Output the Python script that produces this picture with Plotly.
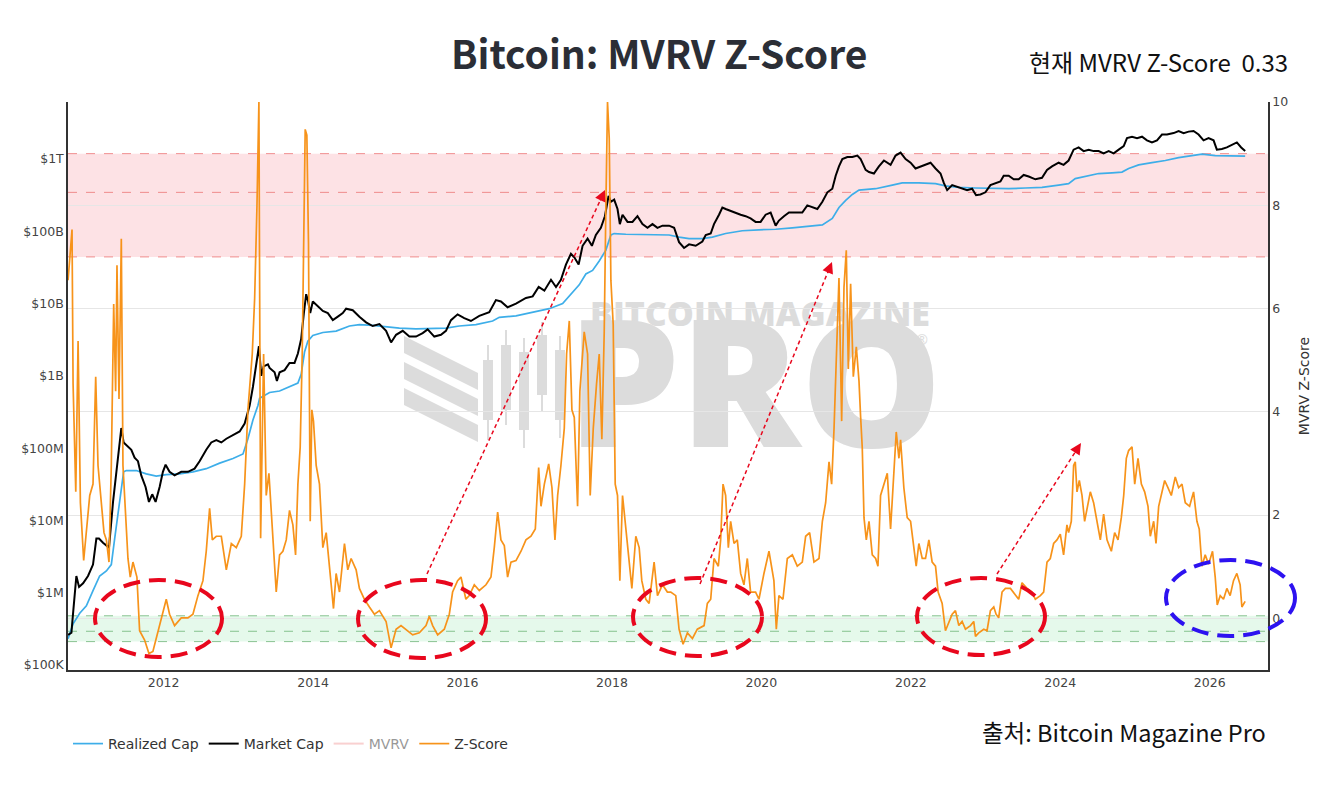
import numpy as np
import pandas as pd
import plotly.graph_objects as go

# ---------------- data ----------------
z_year = [2010.721, 2010.774, 2010.788, 2010.824, 2010.855, 2010.886, 2010.930, 2010.966, 2011.011, 2011.055,
          2011.091, 2011.122, 2011.167, 2011.202, 2011.234, 2011.269, 2011.300, 2011.332, 2011.358, 2011.376,
          2011.403, 2011.434, 2011.456, 2011.492, 2011.523, 2011.554, 2011.590, 2011.643, 2011.679, 2011.746,
          2011.804, 2011.857, 2011.924, 2011.991, 2012.036, 2012.080, 2012.147, 2012.236, 2012.325, 2012.392,
          2012.459, 2012.526, 2012.570, 2012.615, 2012.651, 2012.704, 2012.771, 2012.838, 2012.905, 2012.971,
          2013.038, 2013.083, 2013.127, 2013.185, 2013.217, 2013.248, 2013.274, 2013.297, 2013.337, 2013.372,
          2013.408, 2013.417, 2013.462, 2013.506, 2013.551, 2013.595, 2013.640, 2013.684, 2013.729, 2013.765,
          2013.796, 2013.827, 2013.854, 2013.876, 2013.894, 2013.916, 2013.938, 2013.961, 2013.983, 2014.005,
          2014.041, 2014.085, 2014.130, 2014.175, 2014.219, 2014.273, 2014.308, 2014.353, 2014.420, 2014.464,
          2014.509, 2014.576, 2014.620, 2014.687, 2014.754, 2014.821, 2014.888, 2014.977, 2015.044, 2015.111,
          2015.177, 2015.244, 2015.333, 2015.422, 2015.512, 2015.556, 2015.601, 2015.668, 2015.757, 2015.824,
          2015.868, 2015.935, 2015.980, 2016.046, 2016.091, 2016.158, 2016.225, 2016.314, 2016.381, 2016.425,
          2016.470, 2016.514, 2016.559, 2016.603, 2016.648, 2016.715, 2016.782, 2016.848, 2016.915, 2016.973,
          2017.018, 2017.049, 2017.094, 2017.152, 2017.196, 2017.236, 2017.272, 2017.316, 2017.361, 2017.392,
          2017.428, 2017.463, 2017.495, 2017.539, 2017.570, 2017.628, 2017.673, 2017.708, 2017.749, 2017.793,
          2017.829, 2017.864, 2017.896, 2017.918, 2017.940, 2017.963, 2017.985, 2018.016, 2018.043, 2018.074,
          2018.105, 2018.141, 2018.176, 2018.230, 2018.266, 2018.319, 2018.364, 2018.399, 2018.453, 2018.497,
          2018.564, 2018.609, 2018.676, 2018.742, 2018.787, 2018.854, 2018.898, 2018.952, 2019.010, 2019.077,
          2019.143, 2019.233, 2019.277, 2019.322, 2019.366, 2019.424, 2019.455, 2019.487, 2019.522, 2019.558,
          2019.589, 2019.634, 2019.678, 2019.723, 2019.767, 2019.812, 2019.856, 2019.923, 2019.968, 2020.035,
          2020.102, 2020.168, 2020.200, 2020.235, 2020.289, 2020.347, 2020.414, 2020.480, 2020.547, 2020.592,
          2020.645, 2020.703, 2020.770, 2020.815, 2020.859, 2020.904, 2020.939, 2020.971, 2021.015, 2021.037,
          2021.073, 2021.104, 2021.135, 2021.162, 2021.193, 2021.229, 2021.269, 2021.305, 2021.327, 2021.349,
          2021.372, 2021.403, 2021.439, 2021.483, 2021.528, 2021.559, 2021.594, 2021.639, 2021.684, 2021.728,
          2021.759, 2021.804, 2021.840, 2021.862, 2021.906, 2021.951, 2021.996, 2022.040, 2022.071, 2022.107,
          2022.152, 2022.196, 2022.241, 2022.285, 2022.330, 2022.365, 2022.419, 2022.463, 2022.508, 2022.553,
          2022.597, 2022.642, 2022.686, 2022.731, 2022.798, 2022.842, 2022.865, 2022.909, 2022.976, 2023.020,
          2023.065, 2023.110, 2023.141, 2023.176, 2023.221, 2023.266, 2023.333, 2023.399, 2023.444, 2023.488,
          2023.555, 2023.622, 2023.667, 2023.734, 2023.778, 2023.823, 2023.867, 2023.912, 2023.956, 2024.001,
          2024.045, 2024.090, 2024.112, 2024.148, 2024.179, 2024.201, 2024.224, 2024.255, 2024.291, 2024.326,
          2024.371, 2024.402, 2024.446, 2024.491, 2024.536, 2024.580, 2024.625, 2024.683, 2024.727, 2024.772,
          2024.816, 2024.848, 2024.883, 2024.914, 2024.959, 2024.995, 2025.039, 2025.084, 2025.128, 2025.173,
          2025.204, 2025.249, 2025.280, 2025.316, 2025.360, 2025.396, 2025.440, 2025.485, 2025.538, 2025.583,
          2025.628, 2025.672, 2025.730, 2025.783, 2025.828, 2025.859, 2025.895, 2025.939, 2025.984, 2026.037,
          2026.073, 2026.100, 2026.140, 2026.184, 2026.229, 2026.273, 2026.318, 2026.363, 2026.407, 2026.430,
          2026.474]
z_value = [6.55, 7.53, 4.54, 2.45, 5.37, 2.24, 1.12, 1.66, 2.38, 2.60,
           4.68, 2.96, 2.24, 1.66, 1.52, 1.09, 2.96, 6.09, 4.40, 6.84,
           4.25, 7.35, 2.96, 1.88, 1.16, 0.80, 1.09, 0.80, -0.24, -0.42,
           -0.68, -0.64, -0.28, 0.08, 0.37, 0.08, -0.14, 0.01, 0.01, 0.08,
           0.44, 0.73, 1.30, 2.13, 1.52, 1.59, 1.59, 0.94, 1.45, 1.37,
           1.59, 2.60, 4.04, 5.12, 6.20, 7.99, 10.0, 1.55, 5.12, 2.38,
           2.81, 2.60, 1.52, 0.51, 1.23, 1.30, 1.52, 2.09, 1.81, 1.23,
           2.60, 3.32, 5.12, 7.99, 9.47, 9.36, 7.27, 1.88, 4.04, 3.82,
           2.96, 2.60, 1.37, 1.66, 0.94, 0.19, 0.87, 0.51, 1.45, 0.94,
           1.16, 0.94, 0.58, 0.37, 0.22, 0.08, 0.15, -0.06, -0.57, -0.21,
           -0.14, -0.21, -0.32, -0.28, -0.14, 0.04, -0.14, -0.32, -0.21, 0.08,
           0.51, 0.73, 0.80, 0.37, 0.44, 0.65, 0.54, 0.65, 0.80, 1.37,
           2.06, 1.52, 1.41, 0.80, 1.09, 1.12, 1.30, 1.52, 1.59, 1.73,
           2.92, 2.17, 2.60, 2.99, 2.53, 1.52, 2.38, 2.96, 3.68, 5.12,
           5.76, 4.04, 3.89, 2.17, 4.40, 5.55, 5.12, 2.38, 3.68, 4.54,
           5.12, 3.47, 5.55, 7.99, 10.0, 9.29, 6.55, 5.69, 2.60, 2.38,
           0.73, 2.38, 1.88, 1.16, 0.58, 1.59, 1.37, 0.73, 0.37, 0.29,
           1.09, 0.44, 0.65, 0.51, 0.51, 0.44, -0.21, -0.50, -0.28, -0.39,
           -0.21, -0.14, 0.29, 0.37, 1.16, 1.01, 1.52, 2.60, 2.38, 1.37,
           1.88, 1.45, 1.52, 0.87, 0.65, 1.16, 0.51, 0.51, 0.37, 0.87,
           1.30, 0.73, -0.21, 0.44, 0.37, 1.16, 1.23, 1.01, 1.09, 1.59,
           1.66, 1.09, 1.16, 1.88, 2.24, 3.03, 2.60, 3.68, 5.83, 6.59,
           3.82, 6.41, 7.13, 4.83, 6.48, 4.68, 5.26, 4.60, 3.90, 3.30,
           1.95, 1.52, 1.88, 1.23, 1.16, 1.01, 2.38, 2.60, 2.81, 1.73,
           2.53, 3.61, 3.10, 3.46, 2.53, 1.95, 1.88, 1.37, 1.01, 1.45,
           1.16, 1.16, 1.52, 1.09, 1.01, 0.51, 0.29, -0.24, -0.06, 0.08,
           0.15, -0.14, -0.06, -0.21, -0.14, -0.06, -0.35, -0.28, -0.21, -0.24,
           0.15, 0.22, 0.08, 0.01, 0.51, 0.58, 0.58, 0.44, 0.37, 0.69,
           0.58, 0.51, 0.37, 0.44, 0.51, 1.09, 1.16, 1.45, 1.52, 1.63,
           1.23, 1.81, 1.66, 1.88, 2.96, 3.03, 2.45, 2.67, 2.38, 1.88,
           2.24, 2.45, 2.24, 1.88, 1.52, 2.02, 1.52, 1.30, 1.66, 1.52,
           1.95, 2.38, 3.10, 3.25, 3.32, 2.60, 3.10, 2.60, 2.45, 2.17,
           1.59, 1.88, 1.45, 2.17, 2.45, 2.67, 2.53, 2.38, 2.74, 2.53,
           2.60, 2.24, 2.17, 2.45, 1.88, 1.73, 1.01, 1.23, 1.05, 1.30,
           0.80, 0.26, 0.44, 0.37, 0.58, 0.44, 0.73, 0.87, 0.65, 0.22,
           0.33]

# Market cap, USD millions
mc_year = [2010.721, 2010.766, 2010.788, 2010.832, 2010.868, 2010.922, 2010.988, 2011.055, 2011.100, 2011.135,
           2011.189, 2011.269, 2011.323, 2011.376, 2011.412, 2011.434, 2011.465, 2011.523, 2011.568, 2011.612,
           2011.657, 2011.701, 2011.759, 2011.804, 2011.848, 2011.893, 2011.947, 2011.991, 2012.027, 2012.080,
           2012.147, 2012.236, 2012.325, 2012.414, 2012.481, 2012.570, 2012.637, 2012.704, 2012.771, 2012.838,
           2012.927, 2013.016, 2013.083, 2013.150, 2013.194, 2013.239, 2013.274, 2013.306, 2013.337, 2013.395,
           2013.417, 2013.484, 2013.515, 2013.551, 2013.618, 2013.684, 2013.751, 2013.796, 2013.840, 2013.876,
           2013.907, 2013.934, 2013.961, 2013.996, 2014.063, 2014.130, 2014.197, 2014.264, 2014.331, 2014.397,
           2014.442, 2014.531, 2014.620, 2014.709, 2014.798, 2014.888, 2014.977, 2015.044, 2015.111, 2015.200,
           2015.289, 2015.378, 2015.467, 2015.534, 2015.623, 2015.712, 2015.779, 2015.846, 2015.935, 2016.024,
           2016.113, 2016.225, 2016.358, 2016.447, 2016.514, 2016.603, 2016.715, 2016.848, 2016.938, 2017.018,
           2017.094, 2017.183, 2017.250, 2017.316, 2017.383, 2017.450, 2017.495, 2017.553, 2017.606, 2017.673,
           2017.731, 2017.784, 2017.851, 2017.905, 2017.954, 2017.985, 2018.029, 2018.074, 2018.105, 2018.141,
           2018.208, 2018.274, 2018.341, 2018.408, 2018.475, 2018.542, 2018.609, 2018.676, 2018.765, 2018.832,
           2018.898, 2018.965, 2019.032, 2019.121, 2019.210, 2019.255, 2019.322, 2019.366, 2019.433, 2019.478,
           2019.522, 2019.589, 2019.656, 2019.723, 2019.790, 2019.856, 2019.923, 2019.990, 2020.057, 2020.124,
           2020.191, 2020.235, 2020.302, 2020.369, 2020.458, 2020.547, 2020.614, 2020.681, 2020.748, 2020.815,
           2020.882, 2020.948, 2020.993, 2021.037, 2021.082, 2021.149, 2021.216, 2021.283, 2021.327, 2021.394,
           2021.439, 2021.505, 2021.572, 2021.639, 2021.728, 2021.795, 2021.862, 2021.929, 2021.996, 2022.062,
           2022.129, 2022.196, 2022.263, 2022.330, 2022.397, 2022.441, 2022.486, 2022.553, 2022.620, 2022.686,
           2022.753, 2022.820, 2022.873, 2022.931, 2022.998, 2023.065, 2023.132, 2023.199, 2023.243, 2023.310,
           2023.377, 2023.444, 2023.511, 2023.578, 2023.667, 2023.756, 2023.823, 2023.890, 2023.979, 2024.045,
           2024.112, 2024.179, 2024.246, 2024.313, 2024.380, 2024.447, 2024.513, 2024.580, 2024.647, 2024.714,
           2024.781, 2024.848, 2024.892, 2024.959, 2025.026, 2025.093, 2025.159, 2025.226, 2025.293, 2025.360,
           2025.427, 2025.516, 2025.583, 2025.650, 2025.717, 2025.783, 2025.850, 2025.917, 2025.984, 2026.051,
           2026.095, 2026.162, 2026.229, 2026.296, 2026.363, 2026.421, 2026.474]
mc_musd = [0.26, 0.28, 0.52, 1.7, 1.2, 1.35, 1.7, 2.45, 5.6, 5.6,
           4.9, 4.2, 18, 59, 107, 190, 120, 107, 95, 74,
           66, 42, 29, 18, 23, 18, 29, 47, 59, 47,
           42, 47, 47, 52, 66, 95, 120, 129, 120, 135,
           151, 170, 219, 389, 708, 1620, 2570, 1000, 1350, 1445,
           1290, 1120, 850, 1120, 1200, 1510, 1510, 2040, 3240, 7400,
           13500, 10700, 7400, 10700, 9300, 7900, 7400, 5900, 6600, 7400,
           8500, 8100, 6600, 5500, 4900, 5200, 4200, 2900, 3700, 4200,
           3500, 3500, 3900, 4400, 3500, 3700, 4200, 5900, 7100, 6300,
           5750, 6760, 7590, 11200, 10700, 8900, 10000, 12000, 12600, 17000,
           15100, 21400, 17000, 21400, 34700, 49000, 43700, 34700, 63100, 79400,
           63100, 89100, 112000, 162000, 309000, 257000, 275000, 204000, 126000, 170000,
           135000, 135000, 162000, 126000, 112000, 126000, 112000, 120000, 120000, 112000,
           70800, 58900, 66100, 63100, 72400, 89100, 93300, 126000, 170000, 214000,
           204000, 191000, 182000, 170000, 162000, 151000, 135000, 135000, 170000, 182000,
           120000, 141000, 162000, 182000, 182000, 182000, 229000, 214000, 204000, 257000,
           347000, 389000, 589000, 794000, 1000000, 1070000, 1070000, 1120000, 1000000, 708000,
           661000, 631000, 794000, 955000, 832000, 1120000, 1230000, 1000000, 891000, 741000,
           794000, 832000, 891000, 741000, 631000, 468000, 372000, 437000, 417000, 389000,
           372000, 389000, 316000, 324000, 347000, 437000, 468000, 490000, 589000, 589000,
           525000, 525000, 603000, 575000, 525000, 550000, 708000, 794000, 891000, 832000,
           955000, 1350000, 1450000, 1290000, 1350000, 1290000, 1290000, 1200000, 1290000, 1200000,
           1350000, 1510000, 1950000, 2040000, 1950000, 2040000, 1820000, 1700000, 1820000, 2190000,
           2190000, 2290000, 2450000, 2290000, 2400000, 2450000, 2190000, 1820000, 1950000, 1820000,
           1350000, 1380000, 1450000, 1550000, 1700000, 1450000, 1290000]

# Realized cap, USD millions
rc_year = [2010.721, 2010.788, 2010.877, 2010.966, 2011.055, 2011.144, 2011.234, 2011.300, 2011.345, 2011.389,
           2011.434, 2011.465, 2011.501, 2011.635, 2011.768, 2011.902, 2012.036, 2012.214, 2012.392, 2012.570,
           2012.749, 2012.927, 2013.061, 2013.127, 2013.194, 2013.261, 2013.283, 2013.417, 2013.551, 2013.684,
           2013.796, 2013.840, 2013.885, 2013.929, 2013.996, 2014.130, 2014.308, 2014.487, 2014.620, 2014.798,
           2014.977, 2015.155, 2015.378, 2015.601, 2015.779, 2015.957, 2016.180, 2016.403, 2016.492, 2016.715,
           2016.938, 2017.160, 2017.339, 2017.472, 2017.561, 2017.650, 2017.740, 2017.829, 2017.918, 2017.985,
           2018.029, 2018.185, 2018.408, 2018.631, 2018.765, 2018.898, 2019.032, 2019.210, 2019.344, 2019.522,
           2019.745, 2019.968, 2020.191, 2020.414, 2020.636, 2020.815, 2020.948, 2021.037, 2021.127, 2021.216,
           2021.305, 2021.528, 2021.751, 2021.884, 2022.107, 2022.330, 2022.463, 2022.642, 2022.865, 2023.087,
           2023.310, 2023.533, 2023.756, 2023.979, 2024.112, 2024.201, 2024.335, 2024.513, 2024.692, 2024.825,
           2024.914, 2025.048, 2025.226, 2025.405, 2025.583, 2025.761, 2025.895, 2026.073, 2026.296, 2026.474]
rc_musd = [0.23, 0.37, 0.52, 0.66, 1.07, 1.7, 2.0, 2.45, 5.6, 12.6,
           29, 47, 49, 49, 44, 41, 43, 44, 47, 52,
           62, 72, 83, 135, 245, 389, 490, 589, 617, 708,
           794, 1050, 2140, 3020, 3630, 3980, 4170, 4900, 5130, 5010,
           4790, 4570, 4470, 4470, 4570, 4900, 5130, 5750, 6460, 6760,
           7590, 8510, 10000, 14500, 18200, 25700, 28800, 38900, 55000, 89100,
           93300, 91200, 91200, 89100, 89100, 83200, 79400, 79400, 83200, 93300,
           102000, 105000, 107000, 112000, 117000, 123000, 151000, 214000, 269000, 324000,
           372000, 389000, 437000, 468000, 468000, 457000, 427000, 407000, 398000, 389000,
           389000, 398000, 407000, 437000, 457000, 537000, 575000, 631000, 646000, 661000,
           741000, 832000, 891000, 955000, 1050000, 1120000, 1170000, 1120000, 1100000, 1100000]

left_tick_vals = [1e5, 1e6, 1e7, 1e8, 1e9, 1e10, 1e11, 1e12]
left_tick_text = ["$100K", "$1M", "$10M", "$100M", "$1B", "$10B", "$100B", "$1T"]
right_tick_vals = [0, 2, 4, 6, 8, 10]
year_ticks = [2012, 2014, 2016, 2018, 2020, 2022, 2024, 2026]

current_z = 0.33


def to_dates(years):
    out = []
    for y in years:
        yi = int(np.floor(y))
        start = pd.Timestamp(yi, 1, 1)
        end = pd.Timestamp(yi + 1, 1, 1)
        out.append(start + (end - start) * (y - yi))
    return out


z_dates = to_dates(z_year)
mc_dates = to_dates(mc_year)
rc_dates = to_dates(rc_year)
mc_usd = np.array(mc_musd) * 1e6
rc_usd = np.array(rc_musd) * 1e6
mvrv = np.array(mc_musd) / np.exp(np.interp(mc_year, rc_year, np.log(rc_musd)))

# ---------------- layout geometry (pixels) ----------------
W, H = 1333, 788
L, R, T, B = 68, 1268, 102, 670


def px(X):
    return (X - L) / (R - L)


def py(Y):
    return (B - Y) / (B - T)


fig = go.Figure()
fig.add_trace(go.Scatter(x=rc_dates, y=rc_usd, name="Realized Cap", mode="lines",
                         line=dict(color="#3daee9", width=1.7), yaxis="y"))
fig.add_trace(go.Scatter(x=mc_dates, y=mc_usd, name="Market Cap", mode="lines",
                         line=dict(color="#000000", width=2), yaxis="y"))
fig.add_trace(go.Scatter(x=mc_dates, y=mvrv, name="MVRV", mode="lines",
                         line=dict(color="#f4a3a3", width=2), yaxis="y2", visible="legendonly"))
fig.add_trace(go.Scatter(x=z_dates, y=z_value, name="Z-Score", mode="lines",
                         line=dict(color="#f7931a", width=1.7), yaxis="y2"))

shapes = []
# zones on the Z-score axis
shapes.append(dict(type="rect", xref="paper", yref="y2", x0=0, x1=1, y0=7, y1=9,
                   fillcolor="rgba(250,190,198,0.45)", line=dict(width=0), layer="below"))
shapes.append(dict(type="rect", xref="paper", yref="y2", x0=0, x1=1, y0=-0.45, y1=0.05,
                   fillcolor="rgba(190,240,205,0.40)", line=dict(width=0), layer="below"))
for yv in [9, 8.25, 7]:
    shapes.append(dict(type="line", xref="paper", yref="y2", x0=0, x1=1, y0=yv, y1=yv,
                       line=dict(color="rgba(235,110,110,0.75)", width=1, dash="dash"), layer="below"))
for yv in [0.05, -0.25, -0.45]:
    shapes.append(dict(type="line", xref="paper", yref="y2", x0=0, x1=1, y0=yv, y1=yv,
                       line=dict(color="rgba(110,180,120,0.8)", width=1, dash="dash"), layer="below"))

# watermark (drawn below the traces)
wm = "#dcdcdc"
shapes.append(dict(type="rect", xref="paper", yref="paper", x0=px(560), x1=px(960), y0=py(335), y1=py(295),
                   line=dict(width=0), fillcolor="rgba(0,0,0,0)", layer="below",
                   label=dict(text="BITCOIN MAGAZINE", textposition="middle center",
                              font=dict(family="Open Sans", size=34, color=wm, weight=800))))
shapes.append(dict(type="rect", xref="paper", yref="paper", x0=px(550), x1=px(960), y0=py(462), y1=py(318),
                   line=dict(width=0), fillcolor="rgba(0,0,0,0)", layer="below",
                   label=dict(text="PRO", textposition="middle center",
                              font=dict(family="Open Sans", size=178, color=wm, weight=800))))
shapes.append(dict(type="rect", xref="paper", yref="paper", x0=px(912), x1=px(932), y0=py(350), y1=py(330),
                   line=dict(width=0), fillcolor="rgba(0,0,0,0)", layer="below",
                   label=dict(text="®", textposition="middle center",
                              font=dict(family="Open Sans", size=14, color=wm))))
# logo stripes
for top in [336, 362, 388]:
    x0, x1, th, slope = 404, 478, 17, 0.5
    path = (f"M {px(x0)},{py(top)} L {px(x1)},{py(top + slope * (x1 - x0))} "
            f"L {px(x1)},{py(top + th + slope * (x1 - x0))} L {px(x0)},{py(top + th)} Z")
    shapes.append(dict(type="path", xref="paper", yref="paper", path=path, fillcolor=wm,
                       line=dict(width=0), layer="below"))
# logo candles
for cx, b0, b1, w0, w1 in [(488, 360, 420, 345, 440), (506, 345, 410, 330, 425),
                           (524, 352, 430, 338, 448), (542, 335, 395, 322, 412), (560, 350, 420, 336, 438)]:
    shapes.append(dict(type="line", xref="paper", yref="paper", x0=px(cx), x1=px(cx), y0=py(w0), y1=py(w1),
                       line=dict(color=wm, width=2), layer="below"))
    shapes.append(dict(type="rect", xref="paper", yref="paper", x0=px(cx - 5), x1=px(cx + 5), y0=py(b1), y1=py(b0),
                       fillcolor=wm, line=dict(width=0), layer="below"))

# dashed ellipses
red = "#e8071d"
for (x0, x1, y0, y1, col) in [(95, 222, 580, 657, red), (358, 486, 580, 658, red),
                              (633, 762, 578, 656, red), (917, 1045, 578, 655, red),
                              (1166, 1295, 560, 636, "#2d12f0")]:
    shapes.append(dict(type="circle", xref="paper", yref="paper", x0=px(x0), x1=px(x1), y0=py(y1), y1=py(y0),
                       line=dict(color=col, width=4, dash="17px,9px"), layer="above"))

# dotted arrows
annotations = []
for (tx, ty, hx, hy) in [(427, 574, 605, 190), (700, 584, 832, 262), (997, 574, 1081, 443)]:
    dx, dy = tx - hx, ty - hy
    n = (dx * dx + dy * dy) ** 0.5
    ux, uy = dx / n, dy / n
    shapes.append(dict(type="line", xref="paper", yref="paper", x0=px(tx), y0=py(ty),
                       x1=px(hx + ux * 10), y1=py(hy + uy * 10),
                       line=dict(color=red, width=1.5, dash="4px,3px"), layer="above"))
    annotations.append(dict(xref="paper", yref="paper", x=px(hx), y=py(hy), ax=ux * 13, ay=uy * 13,
                            text="", showarrow=True, arrowhead=2, arrowsize=1.4, arrowwidth=1.6,
                            arrowcolor=red))

annotations.append(dict(xref="paper", yref="paper", x=px(659), y=py(52), xanchor="center", yanchor="middle",
                        text="<b>Bitcoin: MVRV Z-Score</b>", showarrow=False,
                        font=dict(family="Noto Sans CJK KR", size=39, color="#2b2e36")))
annotations.append(dict(xref="paper", yref="paper", x=px(1290), y=py(61), xanchor="right", yanchor="middle",
                        text=f"현재 MVRV Z-Score  {current_z:.2f}", showarrow=False,
                        font=dict(family="Noto Sans CJK KR", size=24, color="#111111")))
annotations.append(dict(xref="paper", yref="paper", x=px(1268), y=py(732), xanchor="right", yanchor="middle",
                        text="출처: Bitcoin Magazine Pro", showarrow=False,
                        font=dict(family="Noto Sans CJK KR", size=23.5, color="#111111")))

tickfont = dict(family="DejaVu Sans", size=12.5, color="#444444")
fig.update_layout(
    width=W, height=H,
    margin=dict(l=L, r=W - R, t=T, b=H - B, pad=0),
    paper_bgcolor="white", plot_bgcolor="rgba(0,0,0,0)",
    showlegend=True,
    legend=dict(orientation="h", x=0.0, y=py(744), xanchor="left", yanchor="middle",
                font=dict(family="DejaVu Sans", size=14, color="#333333"), bgcolor="rgba(0,0,0,0)"),
    xaxis=dict(type="date", range=[to_dates([2010.72])[0], to_dates([2026.78])[0]],
               tickvals=[pd.Timestamp(y, 1, 1) for y in year_ticks], ticktext=[str(y) for y in year_ticks],
               showgrid=False, zeroline=False, showline=True, linecolor="#333333", linewidth=1.5,
               ticks="", tickfont=tickfont),
    yaxis=dict(type="log", range=[4.93, 12.79], tickvals=left_tick_vals, ticktext=left_tick_text,
               showgrid=False, zeroline=False, showline=True, linecolor="#333333", linewidth=1.5,
               ticks="", tickfont=tickfont),
    yaxis2=dict(overlaying="y", side="right", range=[-1, 10], tickvals=right_tick_vals,
                showgrid=True, gridcolor="#e6e6e6", gridwidth=1, zeroline=False,
                showline=True, linecolor="#333333", linewidth=1.5, ticks="", tickfont=tickfont,
                title=dict(text="MVRV Z-Score", font=dict(family="DejaVu Sans", size=14, color="#333333"),
                           standoff=12)),
    shapes=shapes,
    annotations=annotations,
)

fig.write_html("out.html", config={"displayModeBar": False},
               post_script="document.body.style.margin='0';document.body.style.padding='0';")
